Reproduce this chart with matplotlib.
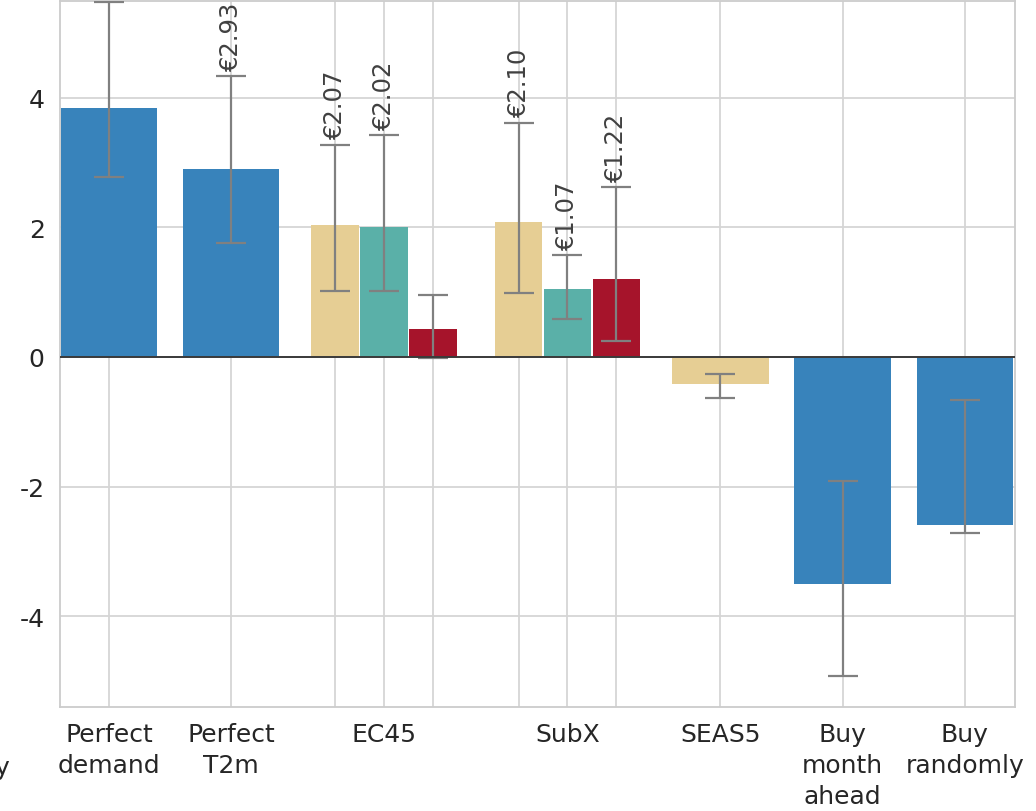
import numpy as np
import matplotlib
matplotlib.use('Agg')
import matplotlib.pyplot as plt

# 数据：每根柱子的均值、置信区间与标注
group_labels = ['Perfect\ndemand', 'Perfect\nT2m', 'EC45', 'SubX', 'SEAS5',
                'Buy\nmonth\nahead', 'Buy\nrandomly']
bar_group = [0, 1, 2, 2, 2, 3, 3, 3, 4, 5, 6]
bar_kind = ['base', 'base', 'a', 'b', 'c', 'a', 'b', 'c', 'a', 'base', 'base']
savings = [3.84, 2.90, 2.04, 2.00, 0.43, 2.08, 1.04, 1.20, -0.42, -3.51, -2.59]
ci_low = [2.78, 1.76, 1.01, 1.01, -0.01, 0.99, 0.59, 0.25, -0.63, -4.92, -2.71]
ci_high = [5.47, 4.33, 3.27, 3.42, 0.95, 3.61, 1.57, 2.62, -0.26, -1.91, -0.67]
annot = ['', '€2.93', '€2.07', '€2.02', '', '€2.10', '€1.07', '€1.22', '', '', '']

# 样式
colors = {'base': '#3883bb', 'a': '#e6ce94', 'b': '#5ab0a8', 'c': '#a6142b'}
group_pos = [0, 1, 2.25, 3.75, 5, 6, 7]
sub_step = 0.4

plt.rcParams['axes.unicode_minus'] = False
plt.rcParams['font.family'] = 'DejaVu Sans'

fig = plt.figure(figsize=(10.36, 8.12), dpi=100)
ax = fig.add_axes([60 / 1036, 1 - 708 / 812, 955 / 1036, 706 / 812])

# 计算每根柱子的x位置
xs, widths = [], []
for i, g in enumerate(bar_group):
    members = [j for j, gg in enumerate(bar_group) if gg == g]
    n = len(members)
    k = members.index(i)
    xs.append(group_pos[g] + (k - (n - 1) / 2) * sub_step)
    widths.append(0.79 if n == 1 else 0.39)
xs = np.array(xs)
vals = np.array(savings)
yerr = np.vstack([vals - np.array(ci_low), np.array(ci_high) - vals])

ax.bar(xs, vals, width=widths, color=[colors[k] for k in bar_kind], zorder=2)
ax.errorbar(xs, vals, yerr=yerr, fmt='none', ecolor='#808080', elinewidth=1.6,
            capsize=11, capthick=1.6, zorder=3)
ax.axhline(0, color='#3a3a3a', lw=1.4, zorder=4)

for x, top, txt in zip(xs, ci_high, annot):
    if txt:
        ax.annotate(txt, (x, top), xytext=(0, 4), textcoords='offset points',
                    rotation=90, ha='center', va='bottom', fontsize=17.5,
                    color='#404040', zorder=5)

# 刻度：每根柱子一条网格线，只在组中心显示标签
tick_labels = []
for i, g in enumerate(bar_group):
    members = [j for j, gg in enumerate(bar_group) if gg == g]
    tick_labels.append(group_labels[g] if i == members[len(members) // 2] else '')
ax.set_xticks(xs)
ax.set_xticklabels(tick_labels, fontsize=18, color='#262626')
for t in ax.get_xticklabels():
    t.set_linespacing(1.35)
ax.set_yticks([-4, -2, 0, 2, 4])
ax.set_yticklabels(['-4', '-2', '0', '2', '4'], fontsize=18, color='#262626')
ax.tick_params(axis='both', length=0)
ax.tick_params(axis='x', pad=11)
ax.tick_params(axis='y', pad=11)

ax.set_xlim(-0.4, 7.41)
ax.set_ylim(-5.40, 5.49)
ax.grid(True, color='#d5d5d5', lw=1.3, zorder=0)
ax.set_axisbelow(True)
for s in ax.spines.values():
    s.set_color('#cccccc')
    s.set_linewidth(1.3)

# 左侧被裁切的文字残片
fig.text(9 / 1036, 1 - 775 / 812, 'y', ha='right', va='baseline',
         fontsize=18, color='#262626')

plt.savefig('out.png', dpi=100)
